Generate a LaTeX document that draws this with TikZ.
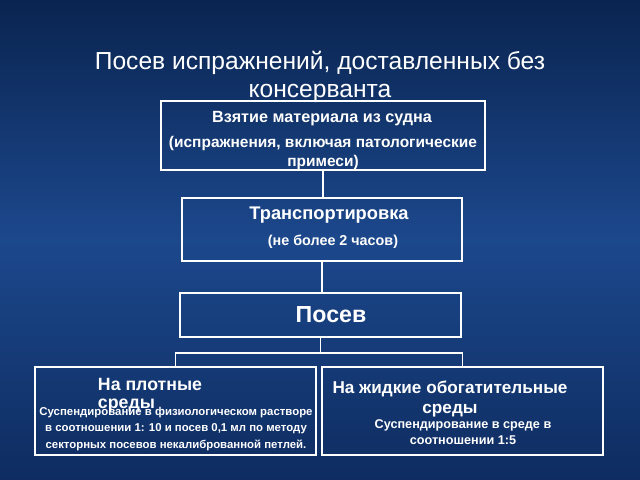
\documentclass[tikz,border=0pt]{standalone}
\usepackage{fontspec}
\setmainfont{Liberation Sans}
\usetikzlibrary{positioning}
\tikzset{
  stage/.style={draw=white, line width=1.3pt, inner sep=0pt},
  lbl/.style={text=white, font=\bfseries, align=center, inner sep=0pt},
  link/.style={draw=white, line width=1.1pt}
}
\begin{document}
\begin{tikzpicture}[x=0.025cm, y=-0.025cm]
  \shade[top color={rgb,255:red,10;green,36;blue,80}, bottom color={rgb,255:red,14;green,44;blue,96}, middle color={rgb,255:red,28;green,72;blue,140}] (0,0) rectangle (640,480);
  \useasboundingbox (0,0) rectangle (640,480);
  % title
  \node[text=white, font=\fontsize{17.5}{20.5}\selectfont, align=center] (title) at (320,77) {Посев испражнений, доставленных без\\консерванта};
  % boxes
  \node[stage, minimum width=8.1cm, minimum height=1.725cm] (take) at (323,135.5) {};
  \node[stage, minimum width=7cm, minimum height=1.575cm] (trans) at (322,229.5) {};
  \node[stage, minimum width=7.025cm, minimum height=1.1cm] (sow) at (320.5,315) {};
  \node[stage, minimum width=7.025cm, minimum height=2.2cm] (solid) at (175.5,411) {};
  \node[stage, minimum width=7.025cm, minimum height=2.2cm] (liquid) at (462.5,411) {};
  % texts
  \node[lbl, font=\fontsize{11.5}{13}\bfseries] at (322,119) {Взятие материала из судна};
  \node[lbl, font=\fontsize{11}{12}\bfseries] at (323,153) {(испражнения, включая патологические\\[1pt]примеси)};
  \node[lbl, font=\fontsize{13}{15}\bfseries] at (329,215) {Транспортировка};
  \node[lbl, font=\fontsize{10.2}{12}\bfseries] at (333,242) {(не более 2 часов)};
  \node[lbl, font=\fontsize{16.5}{18}\bfseries] at (331,315) {Посев};
  \node[lbl, font=\fontsize{12.6}{12.5}\bfseries, align=left] at (150,395) {На плотные\\среды};
  \node[lbl, font=\fontsize{8.1}{11.5}\bfseries] at (176,429) {Суспендирование в физиологическом растворе\\в соотношении 1: 10 и посев 0,1 мл по методу\\секторных посевов некалиброванной петлей.};
  \node[lbl, font=\fontsize{12.2}{14}\bfseries] at (450,399) {На жидкие обогатительные\\среды};
  \node[lbl, font=\fontsize{9}{11.5}\bfseries] at (463,432) {Суспендирование в среде в\\соотношении 1:5};
  % connectors
  \draw[link] (take.south) -- (take.south |- trans.north);
  \draw[link] (trans.south) -- (trans.south |- sow.north);
  \draw[link] (sow.south) -- ++(0,15) coordinate (fork);
  \draw[link] (fork) -| (solid.north);
  \draw[link] (fork) -| (liquid.north);
\end{tikzpicture}
\end{document}
